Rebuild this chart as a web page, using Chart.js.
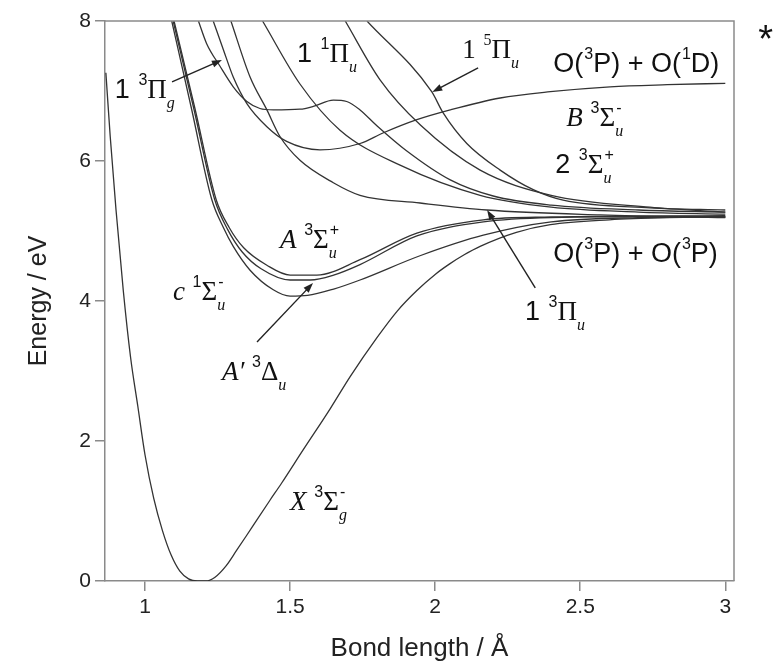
<!DOCTYPE html>
<html><head><meta charset="utf-8">
<script src="https://cdn.jsdelivr.net/npm/chart.js@4/dist/chart.umd.min.js"></script>
<style>html,body{margin:0;padding:0;background:#fff;}#wrap{width:777px;height:668px;position:relative;}</style>
</head><body><div id="wrap"><canvas id="c" width="777" height="668"></canvas></div>
<script>
// ---- data (bond length in Å, energy in eV) ----
const xTicks = [1, 1.5, 2, 2.5, 3];
const yTicks = [0, 2, 4, 6, 8];

const X_r = [0.865,0.88,0.90,0.925,0.95,0.975,1.0,1.03,1.06,1.09,1.12,1.15,1.18,1.21,1.24,1.28,1.316,1.35,1.385,1.43,1.471,1.546,1.638,1.707,1.80,1.87,1.937,2.0,2.05,2.1,2.155,2.28,2.397,2.6,2.8,3.0];
const X_E = [7.26,6.35,5.3,4.15,3.2,2.5,1.8,1.18,0.72,0.37,0.14,0.03,0,0,0.05,0.22,0.44,0.65,0.87,1.15,1.40,1.88,2.46,2.92,3.48,3.86,4.15,4.38,4.53,4.66,4.78,4.98,5.09,5.16,5.19,5.2];

const c_r = [1.092,1.16,1.23,1.27,1.304,1.362,1.442,1.50,1.56,1.65,1.741,1.95,2.166,2.40,2.7,3.0];
const c_E = [8,6.75,5.45,5.05,4.78,4.44,4.16,4.07,4.08,4.17,4.30,4.65,4.94,5.13,5.19,5.2];

const Ap_r = [1.097,1.168,1.24,1.285,1.335,1.40,1.50,1.57,1.65,1.741,1.937,2.166,2.40,3.0];
const Ap_E = [8,6.75,5.45,5.02,4.70,4.46,4.30,4.30,4.37,4.52,4.93,5.13,5.19,5.21];

const A_r = [1.10,1.172,1.245,1.29,1.34,1.42,1.50,1.592,1.741,1.937,2.166,2.40,3.0];
const A_E = [8,6.75,5.45,5.05,4.76,4.51,4.37,4.37,4.59,4.97,5.16,5.20,5.22];

const Pg_r = [1.184,1.212,1.259,1.304,1.351,1.396,1.442,1.534,1.58,1.649,1.695,1.741,1.80,1.90,2.052,2.2,2.40,2.7,3.0];
const Pg_E = [8,7.68,7.35,7.06,6.85,6.75,6.73,6.74,6.78,6.87,6.85,6.73,6.5,6.15,5.73,5.5,5.37,5.3,5.27];

const B_r = [1.235,1.27,1.304,1.351,1.42,1.488,1.603,1.741,1.82,1.937,2.052,2.224,2.397,2.603,2.8,3.0];
const B_E = [8,7.59,7.2,6.82,6.49,6.28,6.16,6.25,6.4,6.59,6.73,6.9,6.99,7.06,7.09,7.11];

const Pu_r = [1.296,1.362,1.42,1.465,1.534,1.649,1.741,1.948,2.178,2.57,3.0];
const Pu_E = [8,7.2,6.73,6.35,6.01,5.69,5.51,5.40,5.30,5.23,5.19];

const P1u_r = [1.405,1.534,1.672,1.879,2.155,2.40,2.7,3.0];
const P1u_E = [8,7.1,6.44,5.94,5.51,5.34,5.27,5.24];

const S2u_r = [1.69,1.81,1.95,2.155,2.40,2.74,3.0];
const S2u_E = [8,7.16,6.51,5.87,5.51,5.34,5.27];

const P5u_r = [1.765,1.988,2.027,2.109,2.224,2.338,2.441,2.74,3.0];
const P5u_E = [8,6.99,6.69,6.25,5.87,5.59,5.44,5.33,5.30];

const curves = [
  [X_r, X_E], [c_r, c_E], [Ap_r, Ap_E], [A_r, A_E], [Pg_r, Pg_E],
  [B_r, B_E], [Pu_r, Pu_E], [P1u_r, P1u_E], [S2u_r, S2u_E], [P5u_r, P5u_E]
];

// ---- annotations ----
const SANS = '"Liberation Sans", Arial, sans-serif';
const SERIF = '"Liberation Serif", "Times New Roman", serif';
const labels = [
  {x:0.896, y:6.90, parts:[{t:'1'},{t:' '},{sup:'3'},{t:'Π',serif:1},{sub:'g'}]},
  {x:1.524, y:7.414, parts:[{t:'1'},{t:' '},{sup:'1'},{t:'Π',serif:1},{sub:'u'}]},
  {x:2.093, y:7.471, parts:[{t:'1',serif:1},{t:' ',serif:1},{sup:'5',serif:1},{t:'Π',serif:1},{sub:'u'}]},
  {x:2.407, y:7.271, parts:[{t:'O('},{sup:'3'},{t:'P) + O('},{sup:'1'},{t:'D)'}]},
  {x:2.452, y:6.50, parts:[{t:'B',serif:1,it:1},{t:' ',serif:1},{sup:'3'},{t:'Σ',serif:1},{sup:'-',sub:'u'}]},
  {x:2.414, y:5.83, parts:[{t:'2'},{t:' '},{sup:'3'},{t:'Σ',serif:1},{sup:'+',sub:'u'}]},
  {x:1.465, y:4.757, parts:[{t:'A',serif:1,it:1},{t:' ',serif:1},{sup:'3'},{t:'Σ',serif:1},{sup:'+',sub:'u'}]},
  {x:1.096, y:4.014, parts:[{t:'c',serif:1,it:1},{t:' ',serif:1},{sup:'1'},{t:'Σ',serif:1},{sup:'-',sub:'u'}]},
  {x:1.265, y:2.871, parts:[{t:'A′',serif:1,it:1},{t:' ',serif:1},{sup:'3'},{t:'Δ',serif:1},{sub:'u'}]},
  {x:1.50, y:1.014, parts:[{t:'X',serif:1,it:1},{t:' ',serif:1},{sup:'3'},{t:'Σ',serif:1},{sup:'-',sub:'g'}]},
  {x:2.31, y:3.729, parts:[{t:'1'},{t:' '},{sup:'3'},{t:'Π',serif:1},{sub:'u'}]},
  {x:2.407, y:4.557, parts:[{t:'O('},{sup:'3'},{t:'P) + O('},{sup:'3'},{t:'P)'}]},
  {x:3.114, y:7.557, parts:[{t:'*', size:38}]}
];
const arrows = [
  {from:[1.093,7.129], to:[1.265,7.443]},
  {from:[2.148,7.329], to:[1.99,6.986]},
  {from:[1.386,3.414], to:[1.579,4.257]},
  {from:[2.345,4.186], to:[2.179,5.30]}
];

const BASE = 27, SCRIPT = 16;
function drawRich(ctx, x, y, parts) {
  let cx = x;
  ctx.textBaseline = 'alphabetic';
  ctx.textAlign = 'left';
  for (const p of parts) {
    if (p.t !== undefined) {
      const sz = p.size || BASE;
      ctx.font = (p.it ? 'italic ' : '') + sz + 'px ' + (p.serif ? SERIF : SANS);
      ctx.fillText(p.t, cx, y);
      cx += ctx.measureText(p.t).width;
    } else {
      let w = 0;
      if (p.sup) {
        ctx.font = SCRIPT + 'px ' + (p.serif ? SERIF : SANS);
        ctx.fillText(p.sup, cx + 1, y - 13);
        w = Math.max(w, ctx.measureText(p.sup).width + 1);
      }
      if (p.sub) {
        ctx.font = 'italic ' + SCRIPT + 'px ' + SERIF;
        ctx.fillText(p.sub, cx, y + 10);
        w = Math.max(w, ctx.measureText(p.sub).width);
      }
      cx += w;
    }
  }
}

const annot = {
  id: 'annot',
  afterDatasetsDraw(chart) {
    const ctx = chart.ctx, xs = chart.scales.x, ys = chart.scales.y;
    const a = chart.chartArea;
    ctx.save();
    ctx.strokeStyle = '#8a8a8a'; ctx.lineWidth = 1.5;
    ctx.beginPath();
    ctx.moveTo(a.left, a.top); ctx.lineTo(a.right, a.top); ctx.lineTo(a.right, a.bottom);
    ctx.stroke();
    ctx.fillStyle = '#111';
    for (const l of labels) drawRich(ctx, xs.getPixelForValue(l.x), ys.getPixelForValue(l.y), l.parts);
    ctx.strokeStyle = '#222'; ctx.fillStyle = '#222'; ctx.lineWidth = 1.4;
    for (const ar of arrows) {
      const x1 = xs.getPixelForValue(ar.from[0]), y1 = ys.getPixelForValue(ar.from[1]);
      const x2 = xs.getPixelForValue(ar.to[0]), y2 = ys.getPixelForValue(ar.to[1]);
      const ang = Math.atan2(y2 - y1, x2 - x1);
      ctx.beginPath(); ctx.moveTo(x1, y1); ctx.lineTo(x2 - 6*Math.cos(ang), y2 - 6*Math.sin(ang)); ctx.stroke();
      ctx.beginPath();
      ctx.moveTo(x2, y2);
      ctx.lineTo(x2 - 10*Math.cos(ang) + 3.5*Math.sin(ang), y2 - 10*Math.sin(ang) - 3.5*Math.cos(ang));
      ctx.lineTo(x2 - 10*Math.cos(ang) - 3.5*Math.sin(ang), y2 - 10*Math.sin(ang) + 3.5*Math.cos(ang));
      ctx.closePath(); ctx.fill();
    }
    ctx.restore();
  }
};

const datasets = curves.map(([r, e]) => ({
  data: r.map((v, i) => ({x: v, y: e[i]})),
  showLine: true, borderColor: '#333', borderWidth: 1.3, pointRadius: 0,
  cubicInterpolationMode: 'monotone', fill: false
}));

new Chart(document.getElementById('c'), {
  type: 'scatter',
  data: {datasets},
  plugins: [annot],
  options: {
    responsive: false, animation: false, devicePixelRatio: 1,
    layout: {padding: {top: 21, right: 43, left: 20, bottom: 0}},
    plugins: {legend: {display: false}, tooltip: {enabled: false}},
    scales: {
      x: {
        type: 'linear', min: 0.862, max: 3.03,
        afterBuildTicks: s => { s.ticks = xTicks.map(v => ({value: v})); },
        afterFit: s => { s.height = 87; },
        grid: {drawOnChartArea: false, drawTicks: true, tickLength: 10, color: '#8a8a8a', lineWidth: 1.5},
        border: {display: true, color: '#8a8a8a', width: 1.5},
        ticks: {font: {family: SANS, size: 21}, color: '#222', padding: 4, maxRotation: 0,
                callback: v => String(v)},
        title: {display: true, text: 'Bond length / Å', font: {family: SANS, size: 26}, color: '#222', padding: {top: 4}}
      },
      y: {
        type: 'linear', min: 0, max: 8,
        afterBuildTicks: s => { s.ticks = yTicks.map(v => ({value: v})); },
        afterFit: s => { s.width = 85; },
        grid: {drawOnChartArea: false, drawTicks: true, tickLength: 10, color: '#8a8a8a', lineWidth: 1.5},
        border: {display: true, color: '#8a8a8a', width: 1.5},
        ticks: {font: {family: SANS, size: 21}, color: '#222', padding: 4, callback: v => String(v)},
        title: {display: true, text: 'Energy / eV', font: {family: SANS, size: 25}, color: '#222', padding: {bottom: 0}}
      }
    }
  }
});
</script></body></html>
